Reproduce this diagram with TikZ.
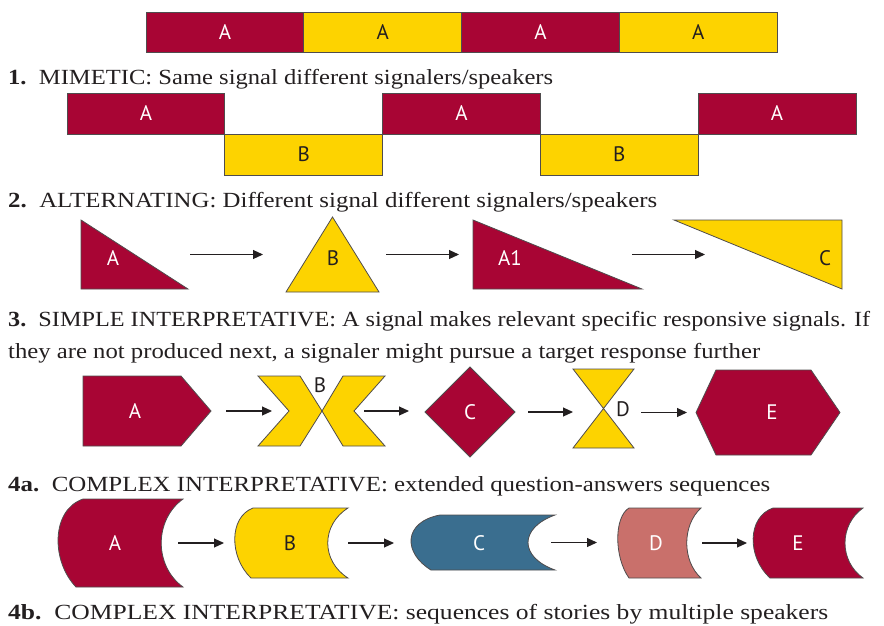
\documentclass[tikz,border=0pt]{standalone}
\usepackage{graphicx}
\usepackage{fontspec}
\setmainfont{Liberation Serif}
\newfontfamily\labelfont{PT Sans}
\usetikzlibrary{positioning,fit,arrows.meta}

\definecolor{crimson}{HTML}{A80534}
\definecolor{gold}{HTML}{FDD300}
\definecolor{steel}{HTML}{3A6E8F}
\definecolor{salmon}{HTML}{C9706B}
\definecolor{ink}{HTML}{231F20}

% caption line stretched to the width it has in the figure
\newcommand{\capfit}[2]{\resizebox{#1pt}{\height}{#2}}

\tikzset{
  shp/.style={draw=ink!80, line width=0.8pt},
  redshp/.style={shp, fill=crimson},
  goldshp/.style={shp, fill=gold},
  box/.style={inner sep=0pt, outer sep=0pt},
  lbl/.style={inner sep=0pt, font=\labelfont\fontsize{21}{22}\selectfont},
  wlbl/.style={lbl, text=white},
  dlbl/.style={lbl, text=ink},
  bar/.style={shp, lbl, minimum width=157.8pt, minimum height=40pt, outer sep=0pt},
  redbar/.style={bar, fill=crimson, text=white},
  goldbar/.style={bar, fill=gold, text=ink},
  arr/.style={-{Triangle[length=10pt,width=9pt]}, line width=1.1pt, draw=ink},
  capt/.style={anchor=base west, inner sep=0pt, text=ink,
    font=\fontsize{21.6}{22}\selectfont}
}

\begin{document}
\begin{tikzpicture}[x=1pt,y=-1pt]
  \useasboundingbox (0,0) rectangle (884,625);

  % 1. mimetic
  \node[redbar, anchor=north west] (m1) at (146,12) {A};
  \node[goldbar, right=0pt of m1] (m2) {A};
  \node[redbar, right=0pt of m2] (m3) {A};
  \node[goldbar, right=0pt of m3] (m4) {A};
  \node[capt] (cap1) at (8,84) {\capfit{545}{\textbf{1.}\ \ MIMETIC: Same signal different signalers/speakers}};

  % 2. alternating
  \node[redbar, minimum height=41pt, anchor=north west] (a1) at (67,93) {A};
  \node[goldbar, minimum height=41pt, below right=0pt and 0pt of a1] (a2) {B};
  \node[redbar, minimum height=41pt, above right=0pt and 0pt of a2] (a3) {A};
  \node[goldbar, minimum height=41pt, below right=0pt and 0pt of a3] (a4) {B};
  \node[redbar, minimum height=41pt, above right=0pt and 0pt of a4] (a5) {A};
  \node[capt] (cap2) at (8,207) {\capfit{649}{\textbf{2.}\ \ ALTERNATING: Different signal different signalers/speakers}};

  % 3. simple interpretative
  \node[box, fit={(81,220) (188,289)}] (t1) {};
  \filldraw[redshp] (t1.north west) -- (t1.south west) -- (t1.south east) -- cycle;
  \node[wlbl] (t1l) at (113,258) {A};
  \node[box, fit={(286,217) (379,292)}] (t2) {};
  \filldraw[goldshp] (t2.south west) -- (t2.north) -- (t2.south east) -- cycle;
  \node[dlbl] (t2l) at (333,258) {B};
  \node[box, fit={(473,220) (642,289)}] (t3) {};
  \filldraw[redshp] (t3.north west) -- (t3.south west) -- (t3.south east) -- cycle;
  \node[wlbl] (t3l) at (510,258) {A1};
  \node[box, fit={(674,220) (842,289)}] (t4) {};
  \filldraw[goldshp] (t4.north west) -- (t4.north east) -- (t4.south east) -- cycle;
  \node[dlbl] (t4l) at (825,258) {C};
  \draw[arr, shorten <=2pt, shorten >=23pt] (t1.east) -- (t1.east -| t2.west);
  \draw[arr, shorten <=7pt, shorten >=14pt] (t2.east) -- (t2.east -| t3.west);
  \draw[arr, shorten <=-10pt, shorten >=-31pt] (t3.east) -- (t3.east -| t4.west);
  \node[capt] (cap3) at (8,326) {\capfit{862}{\textbf{3.}\ \ SIMPLE INTERPRETATIVE: A signal makes relevant specific responsive signals. If}};
  \node[capt] (cap3b) at (8,358) {\capfit{752}{they are not produced next, a signaler might pursue a target response further}};

  % 4a. complex interpretative
  \node[box, fit={(83,376) (211,446)}] (p1) {};
  \filldraw[redshp] (p1.north west) -- ([xshift=-30pt]p1.north east) -- (p1.east)
    -- ([xshift=-30pt]p1.south east) -- (p1.south west) -- cycle;
  \node[wlbl] (p1l) at (135,411) {A};
  \node[box, fit={(258,376) (385,446)}] (p2) {};
  \filldraw[goldshp] (258,376) -- (300,376) -- (322,411) -- (300,446) -- (258,446) -- (289,411) -- cycle;
  \filldraw[goldshp] (385,376) -- (343,376) -- (322,411) -- (343,446) -- (385,446) -- (354,411) -- cycle;
  \node[dlbl] (p2l) at (320,385) {B};
  \node[box, fit={(425,367) (515,457)}] (p3) {};
  \filldraw[redshp] (p3.west) -- (p3.north) -- (p3.east) -- (p3.south) -- cycle;
  \node[wlbl] (p3l) at (p3.center) {C};
  \node[box, fit={(573,369) (634,448)}] (p4) {};
  \filldraw[goldshp] (p4.north west) -- (p4.north east) -- (p4.center)
    -- (p4.south east) -- (p4.south west) -- (p4.center) -- cycle;
  \node[dlbl] (p4l) at (623,409) {D};
  \node[box, fit={(696,370) (840,455)}] (p5) {};
  \filldraw[redshp] (p5.west) -- ([xshift=20pt]p5.north west) -- ([xshift=-29pt]p5.north east)
    -- (p5.east) -- ([xshift=-29pt]p5.south east) -- ([xshift=20pt]p5.south west) -- cycle;
  \node[wlbl] (p5l) at (772,412) {E};
  \draw[arr, shorten <=15pt, shorten >=-14pt] (p1.east) -- (p1.east -| p2.west);
  \draw[arr, shorten <=-21pt, shorten >=16pt] (p2.east) -- (p2.east -| p3.west);
  \draw[arr, shorten <=13pt, shorten >=0pt] (p3.east) -- (p3.east -| p4.west);
  \draw[arr, shorten <=7pt, shorten >=9pt] (p5.west -| p4.east) -- (p5.west);
  \node[capt] (cap4a) at (8,491) {\capfit{762}{\textbf{4a.}\ \ COMPLEX INTERPRETATIVE: extended question-answers sequences}};

  % 4b. complex interpretative
  \node[box, fit={(58,499) (183,587)}] (s1) {};
  \filldraw[redshp] (83,499) -- (183,499) .. controls (154,520) and (154,566) .. (183,587)
    -- (76,587) .. controls (51,561) and (51,510) .. cycle;
  \node[wlbl] (s1l) at (115,543) {A};
  \node[box, fit={(235,508) (348,578)}] (s2) {};
  \filldraw[goldshp] (253,508) -- (348,508) .. controls (321,525) and (321,561) .. (348,578)
    -- (251,578) .. controls (229,557) and (229,517) .. cycle;
  \node[dlbl] (s2l) at (290,543) {B};
  \node[box, fit={(411,515) (555,570)}] (s3) {};
  \filldraw[shp, fill=steel] (440,515) -- (555,515) .. controls (519,528) and (519,557) .. (555,570)
    -- (431,570) .. controls (403,553) and (403,522) .. cycle;
  \node[wlbl] (s3l) at (479,543) {C};
  \node[box, fit={(618,508) (701,578)}] (s4) {};
  \filldraw[shp, fill=salmon] (629,508) -- (701,508) .. controls (682,525) and (682,561) .. (701,578)
    -- (629,578) .. controls (614,557) and (614,517) .. cycle;
  \node[wlbl] (s4l) at (656,543) {D};
  \node[box, fit={(753,508) (863,578)}] (s5) {};
  \filldraw[redshp] (773,508) -- (863,508) .. controls (839,525) and (839,561) .. (863,578)
    -- (770,578) .. controls (747,557) and (747,517) .. cycle;
  \node[wlbl] (s5l) at (798,543) {E};
  \draw[arr, shorten <=-5pt, shorten >=11pt] (s1.east) -- (s1.east -| s2.west);
  \draw[arr, shorten <=0pt, shorten >=17pt] (s2.east) -- (s2.east -| s3.west);
  \draw[arr, shorten <=-4pt, shorten >=21pt] (s3.east) -- (s3.east -| s4.west);
  \draw[arr, shorten <=1pt, shorten >=6pt] (s4.east) -- (s4.east -| s5.west);
  \node[capt] (cap4b) at (8,619) {\capfit{820}{\textbf{4b.}\ \ COMPLEX INTERPRETATIVE: sequences of stories by multiple speakers}};
\end{tikzpicture}
\end{document}
